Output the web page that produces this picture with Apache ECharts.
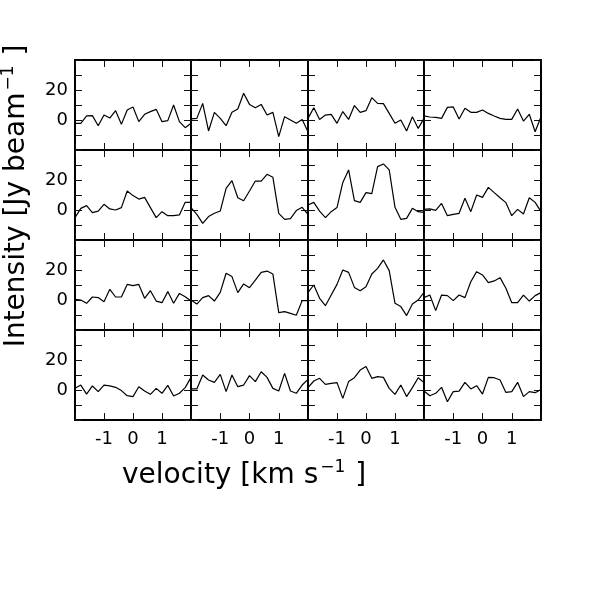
<!DOCTYPE html>
<html>
<head>
<meta charset="utf-8">
<script src="https://cdn.jsdelivr.net/npm/echarts@6/dist/echarts.min.js"></script>
<style>html,body{margin:0;padding:0;background:#fff}#c{width:600px;height:600px}</style>
</head>
<body>
<div id="c"></div>
<script>
const velocity = [-2.0,-1.8,-1.6,-1.4,-1.2,-1.0,-0.8,-0.6,-0.4,-0.2,0.0,0.2,0.4,0.6,0.8,1.0,1.2,1.4,1.6,1.8,2.0];
const xTickLabels = [-1, 0, 1];
const yTickLabels = [0, 20];

const r1c1 = [-2.2,-2.2,2.7,2.9,-3.8,3.3,1.3,6.2,-2.9,6.7,8.7,-1.1,3.8,5.6,7.1,-1.1,-0.4,10.0,-1.1,-5.1,-2.2];
const r1c2 = [0.7,1.1,11.1,-7.3,5.1,1.1,-3.8,5.1,7.3,17.8,10.4,8.2,10.4,3.3,5.1,-11.1,2.2,0.0,-2.2,0.4,-7.8];
const r1c3 = [1.1,8.2,0.4,3.3,3.8,-2.2,5.6,0.4,9.6,5.1,6.2,14.9,11.1,10.9,4.4,-2.2,0.0,-7.3,2.2,-5.6,1.1];
const r1c4 = [2.7,2.0,1.8,1.1,8.4,8.7,0.7,7.8,5.1,5.1,6.7,4.4,2.7,1.1,0.4,0.4,7.3,-0.7,3.8,-7.8,2.2];
const r2c1 = [-5.1,1.1,2.9,-1.8,-0.7,3.8,0.7,0.0,1.6,12.7,9.6,7.3,8.4,1.6,-5.1,-1.1,-3.8,-3.8,-3.3,5.1,5.1];
const r2c2 = [1.6,-2.9,-8.9,-4.4,-2.2,-0.7,14.4,19.6,8.2,6.2,12.7,19.3,19.3,23.8,21.8,-2.2,-6.2,-5.8,-0.4,1.8,-2.9];
const r2c3 = [3.3,5.1,-0.7,-5.1,-1.1,1.6,18.4,26.7,6.2,5.1,11.6,10.9,28.9,30.7,26.7,1.8,-6.2,-5.6,1.1,-1.1,-1.6];
const r2c4 = [0.4,0.7,-0.2,4.4,-3.8,-2.9,-2.2,7.8,-1.1,10.0,8.4,15.1,11.6,8.2,4.9,-3.8,0.4,-2.7,8.2,5.1,-1.1];
const r3c1 = [0.4,0.0,-2.2,2.0,1.6,-1.1,7.1,2.0,2.0,10.4,9.6,10.4,1.1,6.2,-0.7,-1.8,5.6,-2.2,4.4,2.2,-0.7];
const r3c2 = [0.0,-2.7,1.6,2.9,-0.7,5.1,17.8,15.6,4.9,10.7,8.2,13.3,18.4,19.3,17.3,-8.4,-7.8,-8.9,-10.2,-0.4,-0.4];
const r3c3 = [5.1,10.0,1.1,-3.8,3.3,10.4,20.0,18.4,8.4,6.2,8.9,17.3,21.1,26.7,19.6,-2.2,-4.4,-10.4,-2.7,0.0,5.1];
const r3c4 = [1.6,3.3,-7.1,3.3,2.9,-0.4,3.3,1.6,12.2,18.9,16.7,11.6,12.7,14.9,7.8,-1.8,-1.8,3.3,-0.7,2.9,4.9];
const r4c1 = [1.1,3.3,-2.7,2.7,-1.1,3.3,2.7,1.8,-0.4,-3.8,-4.4,2.2,-0.7,-2.9,1.1,-2.2,3.1,-4.0,-2.2,1.6,8.4];
const r4c2 = [0.7,0.7,10.0,6.7,5.1,10.4,-1.1,10.0,2.2,3.3,9.6,5.6,12.2,8.4,1.1,-0.7,11.1,-0.7,-2.2,3.3,7.1];
const r4c3 = [1.6,6.0,7.8,3.8,4.4,4.9,-5.6,5.6,8.2,13.3,15.6,7.8,8.9,8.4,1.1,-2.9,3.3,-4.4,1.6,8.2,4.9];
const r4c4 = [-0.7,-3.8,-2.2,1.8,-7.8,-1.1,-0.7,5.1,0.7,2.9,-2.7,8.4,8.2,6.7,-1.6,-1.1,5.1,-4.4,-1.1,-1.8,0.4];

const panels = [
  [r1c1, r1c2, r1c3, r1c4],
  [r2c1, r2c2, r2c3, r2c4],
  [r3c1, r3c2, r3c3, r3c4],
  [r4c1, r4c2, r4c3, r4c4]
];

const FONT = 'DejaVu Sans';
const lefts = [75, 191, 308, 424];
const widths = [116, 117, 116, 117];
const tops = [60, 150, 240, 330];
const H = 90;

const grid = [], xAxis = [], yAxis = [], series = [];
const lineCol = '#000';
const tick = {show: true, inside: true, length: 7, lineStyle: {color: '#111', width: 1}};
const axLine = {show: true, onZero: false, lineStyle: {color: '#000', width: 2}};

let gi = 0;
for (let r = 0; r < 4; r++) {
  for (let c = 0; c < 4; c++) {
    grid.push({left: lefts[c], top: tops[r], width: widths[c], height: H, containLabel: false});
    const xb = xAxis.length;
    xAxis.push({
      type: 'value', gridIndex: gi, position: 'bottom', min: -2, max: 2, interval: 1,
      axisLine: axLine, axisTick: tick, splitLine: {show: false},
      axisLabel: {
        show: r === 3, margin: 10, fontSize: 18, fontFamily: FONT, color: '#000',
        formatter: v => xTickLabels.indexOf(v) >= 0 ? String(v) : ''
      }
    });
    xAxis.push({
      type: 'value', gridIndex: gi, position: 'top', min: -2, max: 2, interval: 1,
      axisLine: axLine, axisTick: tick, splitLine: {show: false}, axisLabel: {show: false}
    });
    const yb = yAxis.length;
    yAxis.push({
      type: 'value', gridIndex: gi, position: 'left', min: -20, max: 40, interval: 10,
      axisLine: axLine, axisTick: tick, splitLine: {show: false},
      axisLabel: {
        show: c === 0, margin: 7, fontSize: 18, fontFamily: FONT, color: '#000',
        formatter: v => yTickLabels.indexOf(v) >= 0 ? String(v) : ''
      }
    });
    yAxis.push({
      type: 'value', gridIndex: gi, position: 'right', min: -20, max: 40, interval: 10,
      axisLine: axLine, axisTick: tick, splitLine: {show: false}, axisLabel: {show: false}
    });
    series.push({
      type: 'line', xAxisIndex: xb, yAxisIndex: yb,
      data: velocity.map((v, i) => [v, panels[r][c][i]]),
      showSymbol: false, symbol: 'none', animation: false,
      lineStyle: {color: lineCol, width: 1.2}
    });
    gi++;
  }
}

const rich = {
  a: {fontSize: 28, fontFamily: FONT, color: '#000', lineHeight: 34},
  s: {fontSize: 17, fontFamily: FONT, color: '#000', lineHeight: 17, verticalAlign: 'top', padding: [0, 1, 0, 2]}
};

const chart = echarts.init(document.getElementById('c'), null, {renderer: 'canvas'});
chart.setOption({
  animation: false,
  backgroundColor: '#fff',
  grid, xAxis, yAxis, series,
  graphic: [
    {type: 'text', x: 122, y: 476, style: {text: '{a|velocity [km s}{s|−1}{a| ]}', rich, align: 'left', verticalAlign: 'middle'}},
    {type: 'text', x: 17, y: 196, rotation: Math.PI / 2, style: {text: '{a|Intensity [Jy beam}{s|−1}{a| ]}', rich, align: 'center', verticalAlign: 'middle'}}
  ]
});
</script>
</body>
</html>
